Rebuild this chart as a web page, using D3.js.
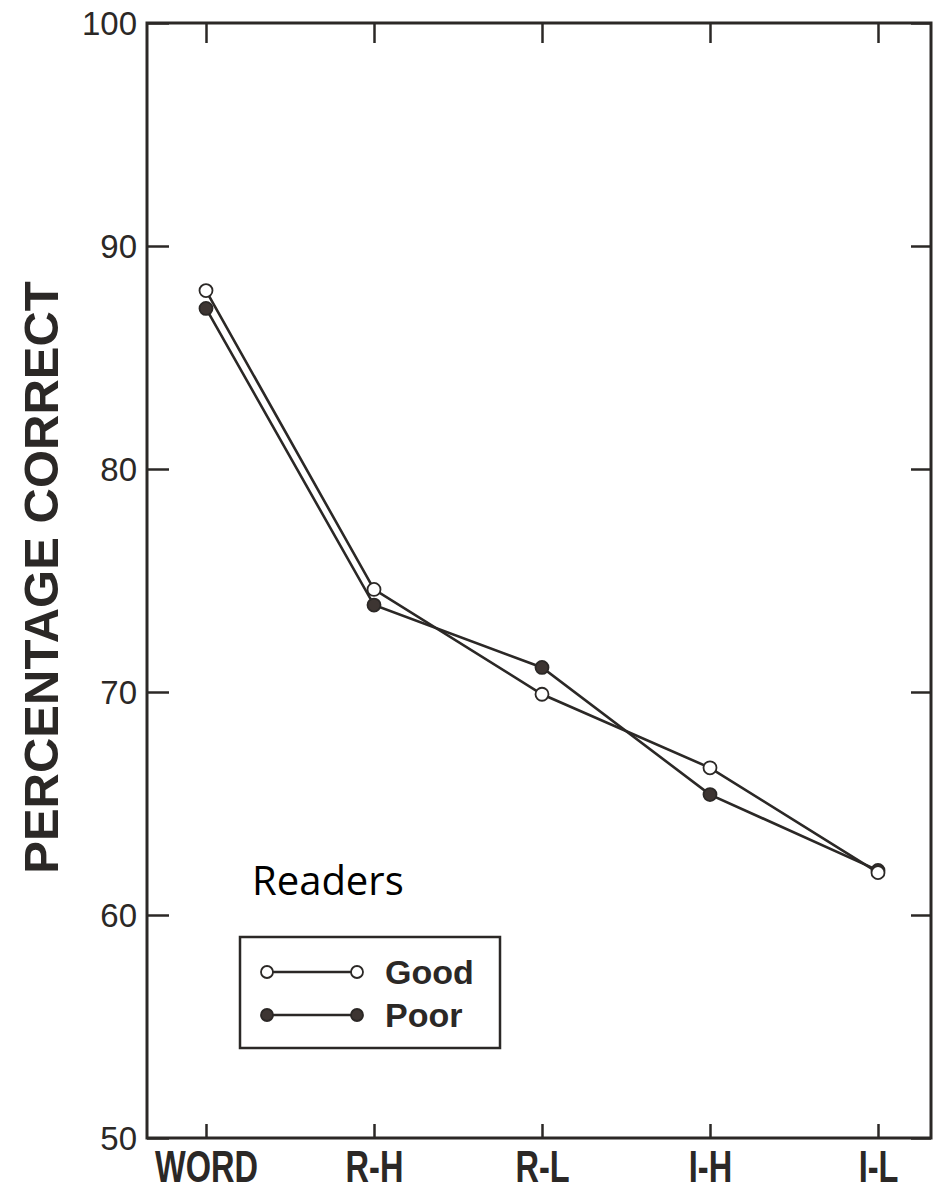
<!DOCTYPE html>
<html>
<head>
<meta charset="utf-8">
<script src="https://cdn.jsdelivr.net/npm/d3@7"></script>
<style>
  body { margin: 0; background: white; }
  svg { display: block; }
</style>
</head>
<body>
<script>
// chart values
const categories = ["WORD", "R-H", "R-L", "I-H", "I-L"]
const goodReaders = [88.0, 74.6, 69.9, 66.6, 61.9]
const poorReaders = [87.2, 73.9, 71.1, 65.4, 62.0]
const yTicks = [50, 60, 70, 80, 90, 100]

const W = 943, H = 1192
const plotLeft = 147, plotRight = 931, plotTop = 23, plotBottom = 1138
const ink = "#2b2826"

const svg = d3.select("body").append("svg")
    .attr("width", W)
    .attr("height", H)
    .style("background", "white")

const xScale = d3.scalePoint()
    .domain(categories)
    .range([206, 878])

const yScale = d3.scaleLinear()
    .domain([50, 100])
    .range([plotBottom, plotTop])

// axes, ticks pointing inward
const yAxis = d3.axisLeft(yScale).tickValues(yTicks).tickSizeInner(-22).tickSizeOuter(0).tickPadding(10)
const yAxisR = d3.axisRight(yScale).tickValues(yTicks).tickSizeInner(-20).tickSizeOuter(0).tickFormat("")
const xAxis = d3.axisBottom(xScale).tickSizeInner(-14).tickSizeOuter(0).tickPadding(12)
const xAxisT = d3.axisTop(xScale).tickSizeInner(-20).tickSizeOuter(0).tickFormat("")

const gy = svg.append("g").attr("transform", `translate(${plotLeft},0)`).call(yAxis)
gy.selectAll("text")
    .attr("font-family", "Liberation Sans, Arial, sans-serif")
    .attr("font-size", 33)
    .attr("fill", ink)
    .attr("dy", "0.36em")

svg.append("g").attr("transform", `translate(${plotRight},0)`).call(yAxisR)

// condensed bold category labels
const gx = svg.append("g").attr("transform", `translate(0,${plotBottom})`).call(xAxis)
gx.selectAll("text")
    .attr("font-family", "Liberation Sans, Arial, sans-serif")
    .attr("font-weight", "bold")
    .attr("font-size", 44)
    .attr("fill", ink)
    .attr("dy", "0.72em")
    .attr("transform", "scale(0.74,1)")

svg.append("g").attr("transform", `translate(0,${plotTop})`).call(xAxisT)

svg.selectAll(".tick line").attr("stroke", ink).attr("stroke-width", 2.5)
svg.selectAll(".domain").remove()

// frame
svg.append("rect")
    .attr("x", plotLeft).attr("y", plotTop)
    .attr("width", plotRight - plotLeft).attr("height", plotBottom - plotTop)
    .attr("fill", "none")
    .attr("stroke", ink)
    .attr("stroke-width", 3)

// y title
svg.append("text")
    .attr("transform", `translate(58, ${(285 + 870) / 2}) rotate(-90)`)
    .attr("text-anchor", "middle")
    .attr("font-family", "Liberation Sans, Arial, sans-serif")
    .attr("font-weight", "bold")
    .attr("font-size", 49)
    .attr("fill", ink)
    .text("PERCENTAGE CORRECT")

const line = d3.line()
    .x((d, i) => xScale(categories[i]))
    .y(d => yScale(d))

const series = [
    { name: "Poor", values: poorReaders, fill: "#3d3532" },
    { name: "Good", values: goodReaders, fill: "white" }
]

series.forEach(s => {
    svg.append("path")
        .datum(s.values)
        .attr("d", line)
        .attr("fill", "none")
        .attr("stroke", ink)
        .attr("stroke-width", 2.6)
})

series.forEach(s => {
    svg.selectAll(null)
        .data(s.values)
        .enter()
        .append("circle")
        .attr("cx", (d, i) => xScale(categories[i]))
        .attr("cy", d => yScale(d))
        .attr("r", 6.5)
        .attr("fill", s.fill)
        .attr("stroke", ink)
        .attr("stroke-width", 1.8)
})

// legend
svg.append("text")
    .attr("x", 252)
    .attr("y", 895)
    .attr("font-family", "Open Sans, Noto Sans, sans-serif")
    .attr("font-size", 40)
    .attr("fill", "black")
    .text("Readers")

svg.append("rect")
    .attr("x", 240).attr("y", 937)
    .attr("width", 260).attr("height", 111)
    .attr("fill", "white")
    .attr("stroke", ink)
    .attr("stroke-width", 2.5)

const legendRows = [
    { name: "Good", y: 972, fill: "white" },
    { name: "Poor", y: 1015, fill: "#3d3532" }
]
legendRows.forEach(r => {
    svg.append("line")
        .attr("x1", 267).attr("x2", 357)
        .attr("y1", r.y).attr("y2", r.y)
        .attr("stroke", ink)
        .attr("stroke-width", 2.5)
    ;[267, 357].forEach(cx => {
        svg.append("circle")
            .attr("cx", cx).attr("cy", r.y).attr("r", 6)
            .attr("fill", r.fill)
            .attr("stroke", ink)
            .attr("stroke-width", 1.8)
    })
    svg.append("text")
        .attr("x", 385)
        .attr("y", r.y + 12)
        .attr("font-family", "Liberation Sans, Arial, sans-serif")
        .attr("font-weight", "bold")
        .attr("font-size", 34)
        .attr("fill", ink)
        .text(r.name)
})
</script>
</body>
</html>
